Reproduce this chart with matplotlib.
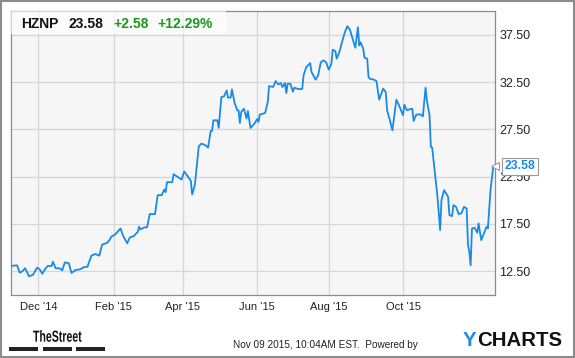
import matplotlib
matplotlib.use('Agg')
import matplotlib.pyplot as plt
from matplotlib.patches import Rectangle, PathPatch
from matplotlib.textpath import TextPath
from matplotlib.font_manager import FontProperties
from matplotlib.transforms import Affine2D

plt.rcParams['font.family'] = ['Liberation Sans', 'DejaVu Sans']

# HZNP closing prices (day = days since Nov 09 2014)
day = [0, 5, 7, 9, 11, 14, 17, 20, 22, 24, 26, 28, 31, 32, 34, 37, 39, 41, 44, 46,
       49, 53, 55, 58, 61, 64, 67, 69, 73, 75, 76, 79, 83, 85, 88, 90, 93, 96, 97, 98,
       101, 103, 105, 109, 111, 114, 116, 117, 118, 122, 123, 126, 129, 131, 134, 136, 137, 139, 142, 144,
       147, 149, 151, 152, 153, 156, 157, 159, 161, 163, 164, 166, 167, 169, 171, 172, 173, 174, 176, 178,
       179, 181, 184, 186, 187, 188, 192, 194, 195, 198, 200, 202, 204, 205, 207, 208, 209, 211, 213, 214,
       217, 220, 221, 223, 226, 227, 228, 230, 232, 234, 236, 238, 240, 242, 243, 245, 246, 248, 250, 252,
       254, 256, 258, 260, 262, 263, 264, 266, 267, 269, 270, 271, 274, 276, 278, 281, 283, 284, 286, 288,
       291, 293, 296, 297, 299, 301, 303, 304, 306, 309, 311, 313, 314, 316, 317, 318, 320, 322, 324, 325,
       327, 330, 331, 333, 334, 336, 338, 340, 342, 344, 345, 346, 347, 348, 350, 352, 353, 355, 357, 359,
       360, 362, 364, 365]
price = [13.03, 13.10, 12.32, 12.47, 12.80, 11.94, 12.10, 12.85, 12.68, 12.21, 12.68, 13.03, 13.03, 13.48, 12.80, 12.78, 12.57, 13.42, 13.31, 12.29,
         12.60, 12.70, 12.89, 12.95, 14.12, 14.30, 14.12, 15.28, 15.49, 15.85, 16.12, 16.38, 17.00, 16.20, 15.43, 16.06, 16.20, 16.65, 17.18, 16.90,
         17.12, 17.12, 18.52, 18.52, 20.53, 20.53, 21.13, 20.84, 21.90, 21.90, 22.75, 22.46, 22.18, 23.03, 22.46, 22.04, 20.60, 21.58, 25.70, 25.99,
         25.81, 25.56, 27.32, 27.32, 28.45, 28.45, 27.64, 30.91, 30.98, 31.62, 30.85, 30.85, 31.72, 30.28, 29.50, 29.50, 28.16, 29.33, 29.68, 28.63,
         29.43, 27.64, 28.10, 28.58, 28.27, 29.05, 29.22, 30.38, 32.07, 31.97, 32.60, 32.25, 32.39, 31.97, 32.39, 31.33, 32.32, 32.32, 31.48, 31.90,
         31.76, 31.76, 33.20, 34.08, 34.50, 33.55, 33.31, 32.75, 33.20, 34.60, 34.79, 34.60, 33.80, 34.44, 35.92, 35.77, 34.97, 35.66, 36.72, 37.70,
         38.41, 38.03, 37.08, 36.13, 38.30, 36.37, 36.72, 36.02, 35.07, 34.97, 33.02, 32.85, 32.75, 32.60, 30.63, 31.80, 31.44, 29.50, 28.52, 27.39,
         30.63, 30.03, 28.98, 30.10, 29.50, 29.61, 29.68, 28.38, 29.05, 29.08, 28.87, 31.90, 30.56, 28.98, 25.63, 25.56, 22.99, 20.35, 16.83, 20.00,
         21.06, 20.35, 18.41, 18.31, 19.47, 19.29, 18.52, 18.60, 19.29, 19.12, 15.25, 14.54, 13.10, 17.00, 17.07, 16.55, 17.54, 15.77, 16.48, 17.18,
         17.00, 21.06, 23.52, 23.58]

month_days = [21, 78, 130, 186, 240, 296]
month_labels = ["Dec '14", "Feb '15", "Apr '15", "Jun '15", "Aug '15", "Oct '15"]
price_ticks = [12.5, 17.5, 22.5, 27.5, 32.5, 37.5]

ticker = 'HZNP'
last = '23.58'
change = '+2.58'
change_pct = '+12.29%'

W, H = 575, 358
fig = plt.figure(figsize=(W / 100, H / 100), dpi=100, facecolor='white')

def fx(px):
    return px / W

def fy(py):
    return 1 - py / H

ax = fig.add_axes([fx(10.5), fy(295), fx(494.5) - fx(10.5), fy(10.5) - fy(295)])
ax.set_facecolor('#f6f6f6')
ax.plot(day, price, color='#1a8ae6', lw=1.3, solid_joinstyle='round', zorder=3)
ax.set_xlim(0, 365)
ax.set_ylim(9.96, 40.07)

ax.set_xticks(month_days)
ax.set_xticklabels(month_labels)
ax.set_yticks(price_ticks)
ax.set_yticklabels([f'{v:.2f}' for v in price_ticks])
ax.yaxis.tick_right()
ax.tick_params(axis='both', length=0, colors='#222222')
ax.tick_params(axis='y', pad=3.5, labelsize=9)
ax.tick_params(axis='x', pad=5, labelsize=8)
ax.grid(True, color='#d6d6d6', lw=0.9)
ax.set_axisbelow(True)
for s in ax.spines.values():
    s.set_color('#8c8c8c')
    s.set_linewidth(0.9)

# header box with quote
ax.add_patch(Rectangle((0, 1), (226 - 10.5) / 484, -(34 - 10.5) / 284.5,
                       transform=ax.transAxes, facecolor='white', alpha=0.65,
                       edgecolor='none', zorder=4))
hy = fy(24)
fig.text(fx(21.5), hy, ticker, fontsize=10, fontweight='bold', color='#111111', va='center')
fig.text(fx(68.5), hy, last, fontsize=10, fontweight='bold', color='#111111', va='center')
fig.text(fx(113), hy, change, fontsize=10, fontweight='bold', color='#1a9a1a', va='center')
fig.text(fx(157), hy, change_pct, fontsize=10, fontweight='bold', color='#1a9a1a', va='center')

# last price flag
ax.annotate(last, xy=(day[-1], price[-1]), xytext=(7, 0), textcoords='offset points',
            fontsize=8.8, fontweight='bold', color='#1a8ae6', va='center', ha='left',
            annotation_clip=False, zorder=6,
            bbox=dict(boxstyle='square,pad=0.22', facecolor='white', edgecolor='#999999', lw=0.8))
ax.plot([day[-1]], [price[-1]], marker='<', ms=6, mfc='white', mec='#999999', mew=0.8,
        clip_on=False, zorder=7)

# footer: condensed TheStreet wordmark
logo = TextPath((0, 0), 'TheStreet', size=16,
                prop=FontProperties(family='Liberation Sans', weight='bold'))
logo_tf = Affine2D().scale(0.66, 1.0).translate(33, H - 341.7)
fig.add_artist(PathPatch(logo, transform=logo_tf, facecolor='#111111', edgecolor='none'))
for x0, x1 in [(9, 38), (43, 72), (76, 105)]:
    fig.add_artist(Rectangle((fx(x0), fy(351)), fx(x1) - fx(x0), fy(347) - fy(351),
                             transform=fig.transFigure, facecolor='#222222', edgecolor='none'))
fig.text(fx(418), fy(345), 'Nov 09 2015, 10:04AM EST.  Powered by', fontsize=7.2,
         color='#222222', va='center', ha='right')
fig.text(fx(462.5), fy(341), 'Y', fontsize=14.7, fontweight='bold', color='#1e8ce6', va='center')
fig.text(fx(477.5), fy(341), 'CHARTS', fontsize=14.7, fontweight='bold', color='#111111', va='center')

# outer frame
fig.add_artist(Rectangle((0.001, 0.002), 0.997, 0.996, transform=fig.transFigure,
                         facecolor='none', edgecolor='#8c8c8c', lw=1.5))

fig.savefig('out.png', dpi=100, facecolor='white')
